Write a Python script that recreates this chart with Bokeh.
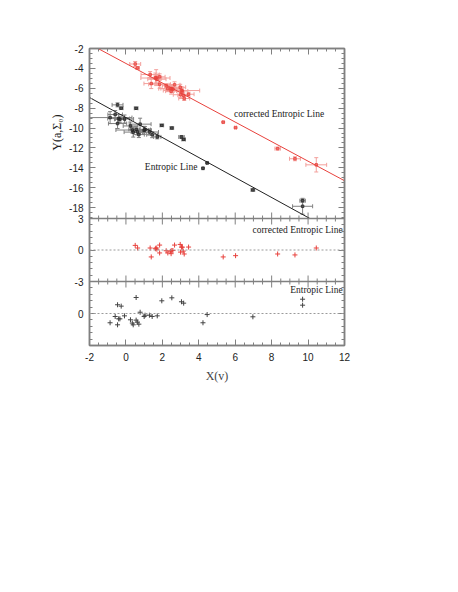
from bokeh.plotting import figure
from bokeh.models import (Range1d, LinearAxis, Whisker, TeeHead, ColumnDataSource,
                          Span, Label, FixedTicker, Title)
from bokeh.embed import file_html
from bokeh.resources import INLINE

# ---------------- data ----------------
# corrected (red) points
red_x = [0.51, 0.64, 1.33, 1.39, 1.62, 1.66, 1.70, 1.85, 1.85, 2.21, 2.30, 2.45, 2.52, 2.58,
         2.48, 2.67, 2.98, 3.05, 3.10, 3.00, 3.15, 3.20, 3.44, 5.34, 6.02, 8.33, 9.28, 10.45]
red_y = [-3.56, -3.95, -4.62, -5.53, -4.97, -4.93, -5.09, -4.85, -5.60, -5.74, -6.04, -6.03,
         -6.03, -6.09, -6.29, -5.65, -5.90, -6.23, -6.28, -6.65, -6.70, -7.03, -6.60, -9.41,
         -9.96, -12.07, -13.09, -13.70]
red_xerr = [0.3, 0.1, 0.5, 0.4, 0.8, 0.3, 0.5, 0.3, 0.6, 0.2, 0.5, 0.3, 0.6, 0.4,
            0.3, 0.3, 0.3, 1.0, 0.3, 0.4, 0.3, 0.3, 0.3, 0.05, 0.05, 0.15, 0.3, 0.57]
red_yerr = [0.25, 0.1, 0.3, 0.5, 0.5, 0.8, 0.4, 0.3, 0.4, 0.2, 0.3, 0.3, 0.4, 0.3,
            0.3, 0.3, 0.3, 0.4, 0.3, 0.3, 0.3, 0.2, 0.2, 0.05, 0.05, 0.15, 0.2, 0.72]
red_res = [0.44, 0.19, 0.19, -0.66, 0.12, 0.20, 0.08, 0.47, -0.28, -0.07, -0.28, -0.12,
           -0.05, -0.05, -0.35, 0.47, 0.53, 0.27, 0.27, -0.20, -0.10, -0.38, 0.28, -0.66,
           -0.54, -0.38, -0.47, 0.19]

# original (black) points
blk_x = [-0.87, -0.59, -0.46, -0.46, -0.40, -0.33, -0.26, -0.08, 0.25, 0.35, 0.40, 0.56,
         0.56, 0.63, 0.71, 0.78, 1.00, 1.05, 1.29, 1.44, 1.72, 1.97, 2.52, 3.05, 3.17,
         4.23, 4.46, 6.97, 9.70, 9.70]
blk_y = [-8.95, -8.64, -7.67, -9.55, -9.05, -9.12, -8.00, -9.09, -9.79, -10.20, -10.41,
         -8.01, -10.13, -10.39, -10.66, -9.61, -10.23, -10.16, -10.40, -10.67, -10.89,
         -9.73, -10.00, -10.90, -11.15, -14.05, -13.51, -16.23, -17.31, -17.87]
blk_xerr = [1.2, 0.4, 0.3, 0.5, 0.6, 0.3, 0.1, 0.5, 0.4, 0.9, 0.5, 0.1, 0.4, 0.3, 0.3,
            0.6, 0.4, 0.3, 0.5, 0.3, 0.2, 0.1, 0.1, 0.15, 0.1, 0.05, 0.05, 0.1, 0.15, 0.55]
blk_yerr = [0.6, 0.4, 0.2, 0.5, 0.4, 0.3, 0.1, 0.4, 0.4, 0.3, 0.5, 0.1, 0.3, 0.3, 0.3,
            0.6, 0.4, 0.3, 0.3, 0.3, 0.2, 0.1, 0.1, 0.15, 0.1, 0.05, 0.05, 0.1, 0.15, 0.8]
blk_res = [-0.87, -0.28, 0.82, -1.06, -0.50, -0.50, 0.69, -0.22, -0.59, -0.90, -1.06, 1.50,
           -0.62, -0.81, -1.00, 0.12, -0.28, -0.16, -0.16, -0.28, -0.22, 1.19, 1.47, 1.10,
           0.97, -0.87, -0.10, -0.31, 1.34, 0.78]

# fitted lines (end points)
red_line_x = [-1.53, 12.0]
red_line_y = [-2.0, -15.30]
blk_line_x = [-2.0, 10.1]
blk_line_y = [-6.93, -19.1]

x_ticks = [-2, 0, 2, 4, 6, 8, 10, 12]
top_ticks = [-2, -4, -6, -8, -10, -12, -14, -16, -18]
mid_ticks = [3, 0, -3]
bot_ticks = [0, -3]

RED = "#e8413c"
RED_ERR = "#f3a09c"
BLK = "#222222"
BLK_ERR = "#808080"
FRAME = "#808080"
SANS = "Liberation Sans"
SERIF = "Liberation Serif"

# ---------------- panel geometry ----------------
TOP_H, MID_H, BOT_H = 170, 63, 64
TOTAL_H = TOP_H + MID_H + BOT_H
TOP_HI, TOP_LO = -2.0, -19.1
S = TOP_H / (TOP_HI - TOP_LO)           # px per unit in the top panel
MAIN_LO = TOP_HI - TOTAL_H / S
X_LO, X_HI = -2, 12


def mid_to_main(v):
    return TOP_HI - (TOP_H + (3 - v) * MID_H / 6) / S


def bot_to_main(v):
    return TOP_HI - (TOP_H + MID_H + (3 - v) * BOT_H / 6) / S


def fmt(v):
    return ("-" if v < 0 else "") + str(abs(int(v)))


p = figure(frame_width=255, frame_height=TOTAL_H,
           x_range=Range1d(X_LO, X_HI), y_range=Range1d(MAIN_LO, TOP_HI),
           output_backend="svg", toolbar_location=None, x_axis_location=None,
           y_axis_location=None, min_border_left=89, min_border_right=12,
           min_border_top=48, min_border_bottom=0)
p.extra_y_ranges = {
    "mid": Range1d(-3 - BOT_H * 6 / MID_H, 3 + TOP_H * 6 / MID_H),
    "bot": Range1d(-3, 3 + (TOP_H + MID_H) * 6 / BOT_H),
}
p.grid.visible = False
p.outline_line_color = FRAME
p.outline_line_width = 1.5

# ---- y ticks (all three panels on one axis) ----
y_major, y_labels = [], {}
for t in top_ticks:
    y_major.append(float(t))
    y_labels[float(t)] = fmt(t)
for t in mid_ticks:
    v = round(mid_to_main(t), 6)
    y_major.append(v)
    y_labels[v] = fmt(t)
for t in bot_ticks:
    v = round(bot_to_main(t), 6)
    y_major.append(v)
    y_labels[v] = fmt(t)
y_minor = [-2 - 0.5 * i for i in range(0, 35)]
y_minor += [round(mid_to_main(3 - 0.6 * i), 6) for i in range(0, 11)]
y_minor += [round(bot_to_main(3 - 0.6 * i), 6) for i in range(0, 11)]
yticker = FixedTicker(ticks=y_major, minor_ticks=y_minor)
xticker = FixedTicker(ticks=x_ticks, minor_ticks=[X_LO + 0.5 * i for i in range(0, 29)])


def style_axis(ax, labels):
    ax.axis_line_color = FRAME
    ax.axis_line_width = 1.5
    ax.major_tick_line_color = FRAME
    ax.minor_tick_line_color = FRAME
    ax.major_tick_in = 6
    ax.major_tick_out = 0
    ax.minor_tick_in = 3
    ax.minor_tick_out = 0
    ax.major_label_text_font = SANS
    if labels:
        ax.major_label_text_font_size = "10px"
        ax.major_label_text_color = "#222222"
        ax.major_label_standoff = 6
    else:
        ax.major_label_text_font_size = "1px"
        ax.major_label_text_color = None
        ax.major_label_standoff = 0


la = LinearAxis(ticker=yticker, major_label_overrides=y_labels)
style_axis(la, True)
p.add_layout(la, "left")

ra = LinearAxis(ticker=yticker)
style_axis(ra, False)
p.add_layout(ra, "right")

ta = LinearAxis(ticker=xticker)
style_axis(ta, False)
p.add_layout(ta, "above")

ba = LinearAxis(ticker=xticker, major_label_overrides={t: fmt(t) for t in x_ticks})
style_axis(ba, True)
ba.major_label_standoff = 7
ba.axis_label = "X(v)"
ba.axis_label_text_font = SERIF
ba.axis_label_text_font_style = "normal"
ba.axis_label_text_font_size = "12px"
ba.axis_label_standoff = 5
p.add_layout(ba, "below")

# y axis title, placed against the top panel
p.add_layout(Title(text="Y(a,Σ₀)", align="right", offset=66, vertical_align="middle",
                   text_font=SERIF, text_font_size="12px", text_font_style="normal",
                   text_color="#222222", standoff=4), "left")

# ---- panel separators with inward ticks on both sides ----
b1 = TOP_LO
b2 = bot_to_main(3)
for b in (b1, b2):
    p.add_layout(Span(location=b, dimension="width", line_color=FRAME, line_width=1.5))
sx0, sy0, sx1, sy1 = [], [], [], []
for b in (b1, b2):
    for i in range(0, 29):
        xv = X_LO + 0.5 * i
        L = (6 if xv in x_ticks else 3) / S
        sx0 += [xv, xv]
        sy0 += [b, b]
        sx1 += [xv, xv]
        sy1 += [b + L, b - L]
p.segment(sx0, sy0, sx1, sy1, line_color=FRAME, line_width=1)

# ---------------- top panel ----------------
p.line(red_line_x, red_line_y, line_color=RED, line_width=1)
p.line(blk_line_x, blk_line_y, line_color=BLK, line_width=1)

for xs, ys, xe, ye, col, ecol in [(red_x, red_y, red_xerr, red_yerr, RED, RED_ERR),
                                  (blk_x, blk_y, blk_xerr, blk_yerr, BLK, BLK_ERR)]:
    src = ColumnDataSource(dict(
        x=xs, y=ys,
        xl=[a - b for a, b in zip(xs, xe)], xu=[a + b for a, b in zip(xs, xe)],
        yl=[a - b for a, b in zip(ys, ye)], yu=[a + b for a, b in zip(ys, ye)]))
    p.add_layout(Whisker(source=src, base="y", lower="xl", upper="xu", dimension="width",
                         line_color=ecol, line_width=1,
                         lower_head=TeeHead(size=4, line_color=ecol),
                         upper_head=TeeHead(size=4, line_color=ecol)))
    p.add_layout(Whisker(source=src, base="x", lower="yl", upper="yu", dimension="height",
                         line_color=ecol, line_width=1,
                         lower_head=TeeHead(size=4, line_color=ecol),
                         upper_head=TeeHead(size=4, line_color=ecol)))
    p.scatter("x", "y", source=src, marker="square", size=2.5, line_color=col,
              fill_color=col, fill_alpha=0.5, line_width=0.8)

p.add_layout(Label(x=5.93, y=-8.57, text="corrected Entropic Line", text_font=SERIF,
                   text_font_size="9.5px", text_baseline="middle", text_color="#222222"))
p.add_layout(Label(x=1.04, y=-13.87, text="Entropic Line", text_font=SERIF,
                   text_font_size="9.5px", text_baseline="middle", text_color="#222222"))

# ---------------- middle panel (residuals, corrected) ----------------
p.add_layout(Span(location=0, dimension="width", y_range_name="mid", line_color="#9a9a9a",
                  line_width=1, line_dash="2 2"))
p.scatter(red_x, red_res, y_range_name="mid", marker="cross", size=5, line_color=RED,
          line_width=1)
p.add_layout(Label(x=11.9, y=1.9, y_range_name="mid", text="corrected Entropic Line",
                   text_font=SERIF, text_font_size="9.5px", text_baseline="middle",
                   text_align="right", text_color="#222222"))

# ---------------- bottom panel (residuals, original) ----------------
p.add_layout(Span(location=0, dimension="width", y_range_name="bot", line_color="#9a9a9a",
                  line_width=1, line_dash="2 2"))
p.scatter(blk_x, blk_res, y_range_name="bot", marker="cross", size=5, line_color="#444444",
          line_width=1)
p.add_layout(Label(x=11.9, y=2.2, y_range_name="bot", text="Entropic Line",
                   text_font=SERIF, text_font_size="9.5px", text_baseline="middle",
                   text_align="right", text_color="#222222"))

open("out.html", "w").write(file_html(p, INLINE))
